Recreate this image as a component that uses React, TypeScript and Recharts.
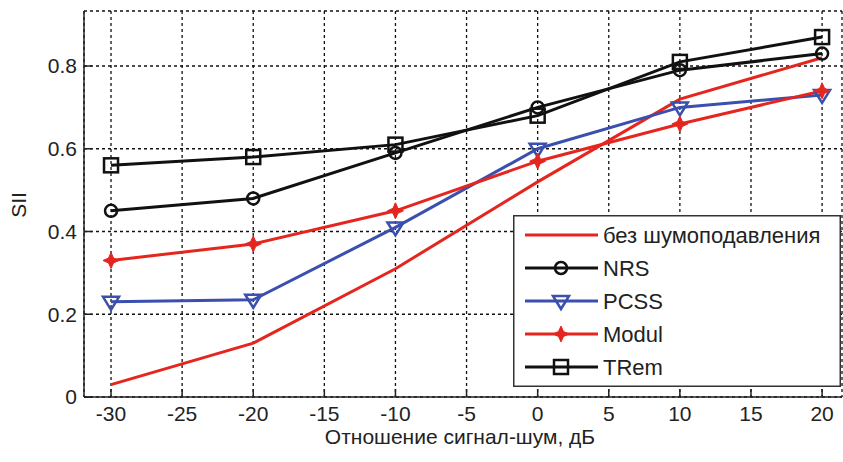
import React from 'react';
import {
  LineChart, Line, XAxis, YAxis, CartesianGrid, Legend,
} from 'recharts';

const SNR = [-30, -20, -10, 0, 10, 20];
const NO_NR = [0.03, 0.13, 0.31, 0.52, 0.72, 0.82];
const NRS = [0.45, 0.48, 0.59, 0.70, 0.79, 0.83];
const PCSS = [0.23, 0.235, 0.41, 0.60, 0.70, 0.73];
const MODUL = [0.33, 0.37, 0.45, 0.57, 0.66, 0.74];
const TREM = [0.56, 0.58, 0.61, 0.68, 0.81, 0.87];

const X_TICKS = [-30, -25, -20, -15, -10, -5, 0, 5, 10, 15, 20];
const Y_TICKS = [0, 0.2, 0.4, 0.6, 0.8];

const RED = '#e5261f';
const BLUE = '#3a4fae';
const BLACK = '#111';
const FONT = '"Liberation Sans", Arial, sans-serif';

const data = SNR.map((x, i) => ({
  x, noNr: NO_NR[i], nrs: NRS[i], pcss: PCSS[i], modul: MODUL[i], trem: TREM[i],
}));

type Kind = 'none' | 'circle' | 'tri' | 'star' | 'square';

function Marker({ kind, cx, cy, color }: { kind: Kind; cx: number; cy: number; color: string }) {
  if (kind === 'circle')
    return <circle cx={cx} cy={cy} r={6} fill="none" stroke={color} strokeWidth={2.5} />;
  if (kind === 'square')
    return <rect x={cx - 7} y={cy - 7} width={14} height={14} fill="none" stroke={color} strokeWidth={2.5} />;
  if (kind === 'tri')
    return <path d={`M${cx - 8},${cy - 5} L${cx + 8},${cy - 5} L${cx},${cy + 8} Z`} fill="none" stroke={color} strokeWidth={2.5} />;
  if (kind === 'star')
    return <path d={`M${cx},${cy - 8} L${cx + 2.5},${cy - 2.5} L${cx + 8},${cy} L${cx + 2.5},${cy + 2.5} L${cx},${cy + 8} L${cx - 2.5},${cy + 2.5} L${cx - 8},${cy} L${cx - 2.5},${cy - 2.5} Z`} fill={color} stroke={color} strokeWidth={1} />;
  return null;
}

const SERIES: { key: string; name: string; color: string; kind: Kind }[] = [
  { key: 'noNr', name: 'без шумоподавления', color: RED, kind: 'none' },
  { key: 'nrs', name: 'NRS', color: BLACK, kind: 'circle' },
  { key: 'pcss', name: 'PCSS', color: BLUE, kind: 'tri' },
  { key: 'modul', name: 'Modul', color: RED, kind: 'star' },
  { key: 'trem', name: 'TRem', color: BLACK, kind: 'square' },
];

function LegendBox() {
  return (
    <svg width={328} height={172} style={{ display: 'block' }}>
      <rect x={0.75} y={0.75} width={326.5} height={170.5} fill="#fff" stroke="#333" strokeWidth={1.5} />
      {SERIES.map((s, i) => {
        const y = 20 + i * 33;
        return (
          <g key={s.key}>
            <line x1={12} x2={85} y1={y} y2={y} stroke={s.color} strokeWidth={3} />
            <Marker kind={s.kind} cx={48} cy={y} color={s.color} />
            <text x={90} y={y + 8} fontSize={22} fill="#222" fontFamily={FONT}>{s.name}</text>
          </g>
        );
      })}
    </svg>
  );
}

export default function App() {
  const tick = { fill: '#222', fontSize: 21, fontFamily: FONT };
  return (
    <div style={{ position: 'absolute', left: 0, top: 0, width: 843, height: 462, background: '#fff' }}>
      <LineChart width={843} height={462} data={data} margin={{ top: 11, right: 1, bottom: 0, left: 0 }}>
        <CartesianGrid stroke="#111" strokeDasharray="3 3" strokeWidth={1.3} />
        <XAxis
          dataKey="x" type="number" domain={[-31.9, 21.4]} ticks={X_TICKS} allowDataOverflow
          height={65} tick={tick} tickSize={-8} tickMargin={17}
          axisLine={{ stroke: '#222', strokeWidth: 1.5 }} tickLine={{ stroke: '#222', strokeWidth: 1.5 }}
          label={{ value: 'Отношение сигнал-шум, дБ', position: 'insideBottom', offset: 18, fill: '#222', fontSize: 21, fontFamily: FONT, dx: -3 }}
        />
        <XAxis
          xAxisId="top" orientation="top" dataKey="x" type="number" domain={[-31.9, 21.4]}
          height={0} tick={false} tickLine={false} axisLine={{ stroke: '#222', strokeWidth: 1.5 }}
        />
        <YAxis
          type="number" domain={[0, 0.933]} ticks={Y_TICKS} allowDataOverflow width={84}
          tick={tick} tickSize={-8} tickMargin={15} tickFormatter={(v: number) => String(v)}
          axisLine={{ stroke: '#222', strokeWidth: 1.5 }} tickLine={{ stroke: '#222', strokeWidth: 1.5 }}
          label={{
            value: 'SII',
            content: () => (
              <text x={18} y={205} transform="rotate(-90 18 205)" textAnchor="middle" dominantBaseline="central"
                fontSize={21} fill="#222" fontFamily={FONT}>SII</text>
            ),
          }}
        />
        {SERIES.map(s => (
          <Line
            key={s.key} type="linear" dataKey={s.key} name={s.name} stroke={s.color} strokeWidth={3}
            isAnimationActive={false}
            dot={s.kind === 'none' ? false : (p: any) => (
              <Marker key={`${s.key}-${p.index}`} kind={s.kind} cx={p.cx} cy={p.cy} color={s.color} />
            )}
          />
        ))}
        <Legend
          layout="vertical" align="center" verticalAlign="middle"
          wrapperStyle={{ position: 'absolute', left: 513, top: 215, width: 328, height: 172 }}
          content={() => <LegendBox />}
        />
      </LineChart>
    </div>
  );
}
